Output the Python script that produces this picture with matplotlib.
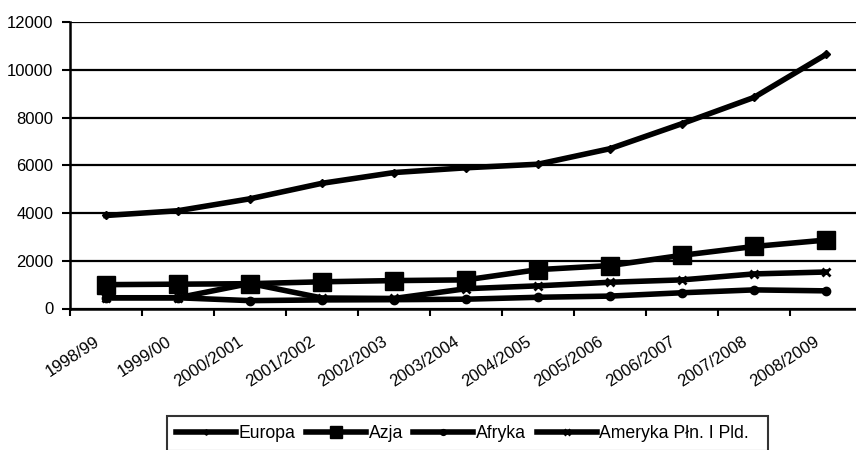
import matplotlib
matplotlib.use("Agg")
import matplotlib.pyplot as plt
import matplotlib.transforms as mtransforms
import numpy as np

# data
seasons = ["1998/99", "1999/00", "2000/2001", "2001/2002", "2002/2003", "2003/2004",
           "2004/2005", "2005/2006", "2006/2007", "2007/2008", "2008/2009"]
europa = [3900, 4100, 4600, 5250, 5700, 5900, 6050, 6700, 7750, 8850, 10650]
azja = [1000, 1020, 1040, 1120, 1170, 1200, 1630, 1800, 2230, 2600, 2870]
afryka = [450, 450, 330, 360, 370, 390, 470, 520, 660, 780, 740]
ameryka = [450, 450, 1050, 440, 420, 830, 950, 1100, 1200, 1450, 1530]

plt.rcParams['font.family'] = ['Liberation Sans', 'DejaVu Sans']
plt.rcParams['font.size'] = 12

fig = plt.figure(figsize=(8.56, 4.5), dpi=100)
ax = fig.add_axes([70/856, 1 - 308.5/450, 792/856, 286.2/450])

x = np.arange(len(seasons))
lw = 4
ax.plot(x, europa, color='k', lw=lw, marker='D', ms=4, label='Europa', zorder=5,
        solid_joinstyle='round')
ax.plot(x, ameryka, color='k', lw=lw, marker='x', ms=6, mew=2, label='Ameryka Płn. I Pld.  ',
        zorder=3, solid_joinstyle='round')
ax.plot(x, afryka, color='k', lw=lw, marker='o', ms=6, label='Afryka', zorder=3,
        solid_joinstyle='round')
ax.plot(x, azja, color='k', lw=lw, marker='s', ms=13, label='Azja', zorder=4,
        solid_joinstyle='round')

ax.set_xlim(-0.5, 10.5)
ax.set_ylim(0, 12000)
ax.set_yticks(np.arange(0, 12001, 2000))
ax.yaxis.grid(True, color='k', lw=1.6)
ax.set_axisbelow(True)

ax.set_xticks(x)
ax.set_xticklabels(seasons, rotation=33, ha='right', va='top', rotation_mode='anchor')
ax.set_xticks(np.arange(-0.5, 11, 1), minor=True)
ax.tick_params(axis='x', which='major', length=0, pad=18)
ax.tick_params(axis='x', which='minor', length=5, width=1.5, direction='out')
ax.tick_params(axis='y', length=6, width=1.5, direction='out', pad=6)

shift = mtransforms.ScaledTranslation(-12/100, 0, fig.dpi_scale_trans)
for t in ax.get_xticklabels():
    t.set_transform(t.get_transform() + shift)

for s in ['top', 'right']:
    ax.spines[s].set_visible(False)
ax.spines['left'].set_linewidth(1.8)
ax.spines['bottom'].set_linewidth(1.8)

h, l = ax.get_legend_handles_labels()
order = [0, 3, 2, 1]
leg = fig.legend([h[i] for i in order], [l[i] for i in order], ncol=4,
                 loc='upper left', bbox_to_anchor=(167/856, 1 - 416/450),
                 frameon=True, fancybox=False, edgecolor='k', numpoints=1,
                 handlelength=3.4, handletextpad=0.15, columnspacing=0.6,
                 markerscale=0.7, borderpad=0.5, borderaxespad=0,
                 prop={'size': 12.7})
leg.get_frame().set_linewidth(1.5)

fig.savefig("out.png", dpi=100)
